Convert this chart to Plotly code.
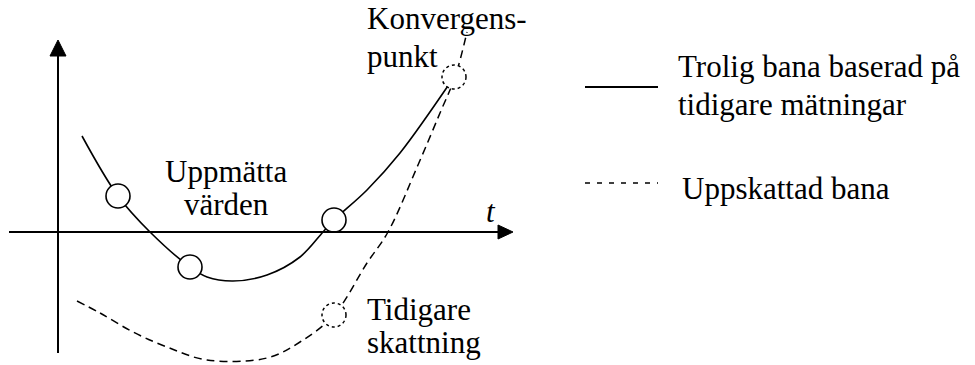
import plotly.graph_objects as go

# Diagram units: t along the horizontal axis, value along the vertical axis,
# origin at the crossing of the two drawn axes.
solid_t = [24, 60, 92, 132, 149, 175, 209, 242, 265, 276, 309, 342, 396]
solid_v = [96, 36, 0, -35, -45, -49, -43, -25, 0, 12, 42, 79, 155]

dashed_t = [19, 42, 75, 109, 149, 209, 242, 276, 309, 330, 360, 382, 397, 409]
dashed_v = [-69, -81, -100, -115, -128, -126, -110, -83, -31, 0, 67, 119, 155, 200]

measured_t = [60, 132, 276]
measured_v = [36, -35, 12]

estimate_t = [276, 396]   # Tidigare skattning, Konvergenspunkt
estimate_v = [-83, 155]

t_axis = [-49, 455]       # start, arrow tip
v_axis = [-121, 192]      # start, arrow tip

W, H = 975, 365
X0, Y0 = 58, 232          # pixel position of the origin
FONT = "Liberation Serif"
FS = 31

fig = go.Figure()

fig.add_trace(go.Scatter(x=solid_t, y=solid_v, mode="lines",
                         line=dict(color="black", width=1.6, shape="spline", smoothing=1.0),
                         name="Trolig bana baserad på tidigare mätningar", hoverinfo="skip"))
fig.add_trace(go.Scatter(x=dashed_t, y=dashed_v, mode="lines",
                         line=dict(color="black", width=1.5, shape="spline", smoothing=1.0, dash="8px,5px"),
                         name="Uppskattad bana", hoverinfo="skip"))
fig.add_trace(go.Scatter(x=measured_t, y=measured_v, mode="markers",
                         marker=dict(size=24, color="white", line=dict(color="black", width=1.6)),
                         name="Uppmätta värden", hoverinfo="skip"))

shapes = []
# axes
shapes.append(dict(type="line", x0=0, x1=0, y0=v_axis[0], y1=v_axis[1] - 14,
                   line=dict(color="black", width=2)))
shapes.append(dict(type="path",
                   path=f"M {-8},{v_axis[1]-16} L 0,{v_axis[1]} L 8,{v_axis[1]-16} Z",
                   fillcolor="black", line=dict(color="black", width=1)))
shapes.append(dict(type="line", x0=t_axis[0], x1=t_axis[1] - 13, y0=0, y1=0,
                   line=dict(color="black", width=2)))
shapes.append(dict(type="path",
                   path=f"M {t_axis[1]-15},7 L {t_axis[1]},0 L {t_axis[1]-15},-7 Z",
                   fillcolor="black", line=dict(color="black", width=1)))
# dotted estimate circles
r = 12
for cx, cy in zip(estimate_t, estimate_v):
    shapes.append(dict(type="circle", x0=cx - r, x1=cx + r, y0=cy - r, y1=cy + r,
                       fillcolor="white", line=dict(color="black", width=1.5, dash="dot")))


def px(xp):
    return xp - X0


def py(yp):
    return Y0 - yp


# legend samples
shapes.append(dict(type="line", x0=px(585), x1=px(658), y0=py(87), y1=py(87),
                   line=dict(color="black", width=2)))
shapes.append(dict(type="line", x0=px(585), x1=px(658), y0=py(183), y1=py(183),
                   line=dict(color="black", width=1.5, dash="5px,7px")))

annotations = []


def label(text, x_pix, base_pix, anchor="left"):
    annotations.append(dict(x=px(x_pix), y=py(base_pix - 0.33 * FS), text=text,
                            xref="x", yref="y", showarrow=False,
                            xanchor=anchor, yanchor="middle",
                            font=dict(family=FONT, size=FS, color="black")))


label("Konvergens-", 365, 29)
label("punkt", 365, 67)
label("Uppmätta", 226, 182, "center")
label("värden", 226, 215, "center")
label("Tidigare", 365, 320)
label("skattning", 365, 353)
label("Trolig bana baserad på", 676, 77)
label("tidigare mätningar", 676, 115)
label("Uppskattad bana", 680, 199)
label("<i>t</i>", 484, 222)

fig.update_layout(
    width=W, height=H,
    margin=dict(l=0, r=0, t=0, b=0),
    paper_bgcolor="white", plot_bgcolor="white",
    showlegend=False,
    xaxis=dict(range=[-X0, W - X0], visible=False, fixedrange=True),
    yaxis=dict(range=[Y0 - H, Y0], visible=False, fixedrange=True),
    shapes=shapes, annotations=annotations,
)

fig.write_html("out.html", config={"displayModeBar": False},
               post_script="document.body.style.margin='0px';")
